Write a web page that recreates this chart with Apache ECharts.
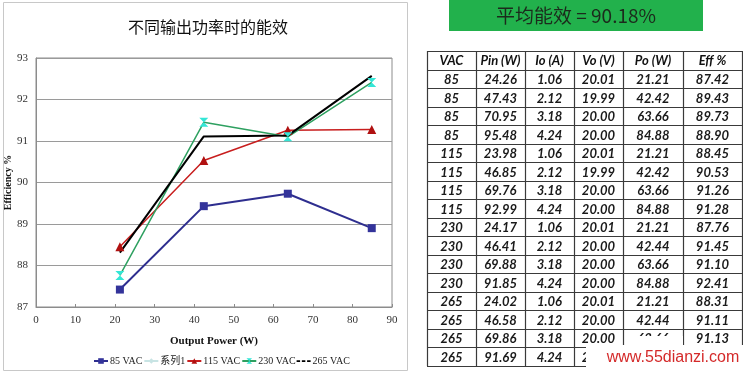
<!DOCTYPE html>
<html><head><meta charset="utf-8">
<script src="https://cdn.jsdelivr.net/npm/echarts@6/dist/echarts.min.js"></script>
<style>html,body{margin:0;padding:0;background:#fff}#c{width:743px;height:372px}</style>
</head><body><div id="c"></div>
<script>
// ---- Chart data ----
const outputPower = [21.21, 42.42, 63.66, 84.88];
const eff85 = [87.42, 89.43, 89.73, 88.90];
const eff115 = [88.45, 90.53, 91.26, 91.28];
const eff230 = [87.76, 91.45, 91.10, 92.41];
const eff265 = [88.31, 91.11, 91.13, 92.57];
const seriesNames = ['85 VAC', '系列1', '115 VAC', '230 VAC', '265 VAC'];
const yTicks = [87, 88, 89, 90, 91, 92, 93];
const xTicks = [0, 10, 20, 30, 40, 50, 60, 70, 80, 90];
const chartTitle = '不同输出功率时的能效';
const bannerText = '平均能效 = 90.18%';
// ---- Table data ----
const tableHeader = ['VAC', 'Pin (W)', 'Io (A)', 'Vo (V)', 'Po (W)', 'Eff %'];
const colVAC = ['85','85','85','85','115','115','115','115','230','230','230','230','265','265','265','265'];
const colPin = ['24.26','47.43','70.95','95.48','23.98','46.85','69.76','92.99','24.17','46.41','69.88','91.85','24.02','46.58','69.86','91.69'];
const colIo = ['1.06','2.12','3.18','4.24','1.06','2.12','3.18','4.24','1.06','2.12','3.18','4.24','1.06','2.12','3.18','4.24'];
const colVo = ['20.01','19.99','20.00','20.00','20.01','19.99','20.00','20.00','20.01','20.00','20.00','20.00','20.01','20.00','20.00','20.00'];
const colPo = ['21.21','42.42','63.66','84.88','21.21','42.42','63.66','84.88','21.21','42.44','63.66','84.88','21.21','42.44','63.66','84.88'];
const colEff = ['87.42','89.43','89.73','88.90','88.45','90.53','91.26','91.28','87.76','91.45','91.10','92.41','88.31','91.11','91.13','92.57'];
const watermark = 'www.55dianzi.com';

const toPts = ys => outputPower.map((x, i) => [x, ys[i]]);
const serif = "'Liberation Serif', 'Noto Sans CJK SC', serif";

// table graphics
const colEdges = [427, 476, 525, 574, 623, 683, 742];
const tTop = 51, rowH = 18.53;
const columns = [colVAC, colPin, colIo, colVo, colPo, colEff];
const nRows = colVAC.length + 1;
const g = [];
// chart frame
g.push({type:'rect', shape:{x:3.5, y:2.5, width:404, height:368}, style:{fill:'none', stroke:'#c8c8c8', lineWidth:1}, z:-1});
// banner
g.push({type:'rect', shape:{x:449, y:0, width:254, height:31}, style:{fill:'#22b14c'}});
g.push({type:'text', x:576, y:16, style:{text:bannerText, fill:'#1c2a1c', font:"19px 'Noto Sans CJK SC', 'Liberation Sans', sans-serif", textAlign:'center', textVerticalAlign:'middle'}});
// table lines
for (let r = 0; r <= nRows; r++) {
  const y = Math.round(tTop + r * rowH) + 0.5;
  g.push({type:'line', shape:{x1:colEdges[0], y1:y, x2:colEdges[colEdges.length-1], y2:y}, style:{stroke:'#3a3a3a', lineWidth:1.2}});
}
for (let c = 0; c < colEdges.length; c++) {
  g.push({type:'line', shape:{x1:colEdges[c]+0.5, y1:tTop, x2:colEdges[c]+0.5, y2:tTop + nRows*rowH}, style:{stroke:'#3a3a3a', lineWidth:1.2}});
}
const cellFont = "italic bold 13px Lato, 'Open Sans', sans-serif";
for (let c = 0; c < 6; c++) {
  const cx = (colEdges[c] + colEdges[c+1]) / 2;
  g.push({type:'text', x:cx, y:tTop + rowH/2 + 1, style:{text:tableHeader[c], fill:'#111', font:cellFont, textAlign:'center', textVerticalAlign:'middle'}});
  columns[c].forEach((v, r) => {
    g.push({type:'text', x:cx, y:tTop + (r+1.5)*rowH + 1, style:{text:v, fill:'#1a1a1a', font:cellFont, textAlign:'center', textVerticalAlign:'middle'}});
  });
}
// watermark
g.push({type:'rect', shape:{x:630, y:336, width:53, height:10}, style:{fill:'#fff'}, z:10});
g.push({type:'rect', shape:{x:586, y:345, width:157, height:27}, style:{fill:'#fff'}, z:10});
g.push({type:'text', x:673, y:358, z:11, style:{text:watermark, fill:'#d42a2a', font:"16px 'Liberation Sans', Arial, sans-serif", textAlign:'center', textVerticalAlign:'middle'}});

const chart = echarts.init(document.getElementById('c'), null, {renderer:'canvas'});
const hourglass = 'path://M0,0L10,0L5,5L10,10L0,10L5,5Z';
const dashIcon = 'path://M0,4L4,4L4,6L0,6ZM6,4L10,4L10,6L6,6ZM12,4L16,4L16,6L12,6Z';
chart.setOption({
  animation: false,
  backgroundColor: '#fff',
  title: {text: chartTitle, left: 203, top: 14, textAlign: 'center',
    textStyle: {fontFamily: "'Noto Sans CJK SC', sans-serif", fontSize: 16, fontWeight: 'normal', color: '#111'}},
  legend: {
    left: 88, top: 351, itemGap: 1, itemWidth: 14, itemHeight: 7,
    data: [
      {name: seriesNames[0]}, {name: seriesNames[1]}, {name: seriesNames[2]}, {name: seriesNames[3]},
      {name: seriesNames[4], icon: dashIcon, itemStyle: {color: '#000'}}
    ],
    textStyle: {fontFamily: serif, fontSize: 10, color: '#222', padding: [0,0,0,-3]}
  },
  grid: {left: 36, top: 58, width: 356, height: 249, show: true, borderColor: '#8c8c8c', borderWidth: 1,
    backgroundColor: 'transparent', containLabel: false, outerBoundsMode: 'none'},
  xAxis: {
    type: 'value', min: 0, max: 90, interval: 10,
    name: 'Output Power (W)', nameLocation: 'middle', nameGap: 29,
    nameTextStyle: {fontFamily: serif, fontWeight: 'bold', fontSize: 11, color: '#111'},
    axisLine: {lineStyle: {color: '#8c8c8c'}},
    axisTick: {show: true, inside: true, length: 3, lineStyle: {color: '#8c8c8c'}},
    axisLabel: {fontFamily: serif, fontSize: 11, color: '#333', margin: 8},
    splitLine: {show: false}
  },
  yAxis: {
    type: 'value', min: 87, max: 93, interval: 1,
    name: 'Efficiency %', nameLocation: 'middle', nameGap: 22, nameRotate: 90,
    nameTextStyle: {fontFamily: serif, fontWeight: 'bold', fontSize: 10, color: '#111'},
    axisLine: {show: true, lineStyle: {color: '#8c8c8c'}},
    axisTick: {show: false},
    axisLabel: {fontFamily: serif, fontSize: 11, color: '#333', margin: 8},
    splitLine: {lineStyle: {color: '#9a9a9a', width: 1}}
  },
  graphic: g,
  series: [
    {name: seriesNames[0], type: 'line', data: toPts(eff85), symbol: 'rect', symbolSize: 8,
      lineStyle: {color: '#2e2e8f', width: 2}, itemStyle: {color: '#33339a'}},
    {name: seriesNames[1], type: 'line', data: [], symbol: 'diamond', symbolSize: 8,
      lineStyle: {color: '#c8e4e4', width: 2}, itemStyle: {color: '#c8e4e4'}},
    {name: seriesNames[2], type: 'line', data: toPts(eff115), symbol: 'triangle', symbolSize: 9,
      lineStyle: {color: '#c81e1e', width: 1.5}, itemStyle: {color: '#b01010'}},
    {name: seriesNames[3], type: 'line', data: toPts(eff230), symbol: hourglass, symbolSize: 9,
      lineStyle: {color: '#2ea060', width: 1.5}, itemStyle: {color: '#33e6d6'}},
    {name: seriesNames[4], type: 'line', data: toPts(eff265), symbol: 'none', z: 3,
      lineStyle: {color: '#000', width: 2}, itemStyle: {color: '#000'}}
  ]
});
</script></body></html>
